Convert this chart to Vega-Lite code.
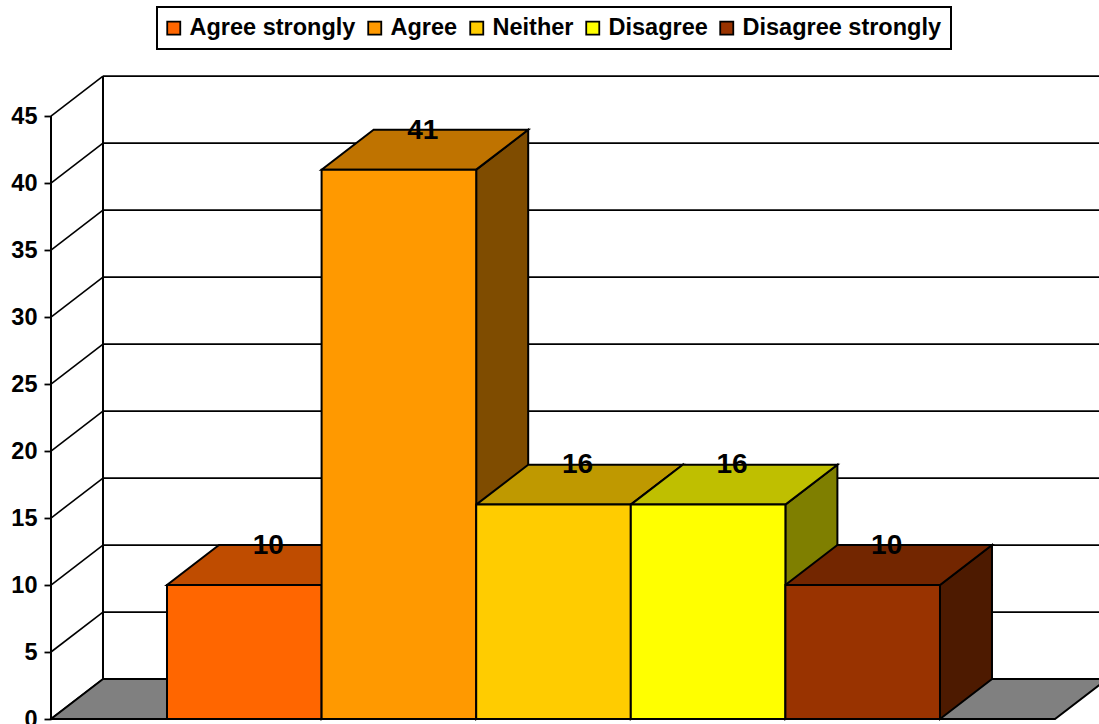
{
"$schema":"https://vega.github.io/schema/vega-lite/v6.json",
"width":1099,"height":724,"autosize":"none","padding":0,"background":"white",
"datasets":{
"bars":[{"category":"Agree strongly","value":10},{"category":"Agree","value":41},{"category":"Neither","value":16},{"category":"Disagree","value":16},{"category":"Disagree strongly","value":10}],
"ticks":[{"t":0},{"t":5},{"t":10},{"t":15},{"t":20},{"t":25},{"t":30},{"t":35},{"t":40},{"t":45}],
"floor":[{"d":0},{"d":1}],
"walls":[{"d":0,"lo":0,"hi":45},{"d":1,"lo":0,"hi":45}]
},
"config":{"view":{"stroke":null},"font":"Liberation Sans","legend":{"strokeWidth":2}},
"resolve":{"scale":{"fill":"independent"}},
"layer":[
{"data":{"name":"ticks"},
 "transform":[{"calculate":"-0.414","as":"xa"},{"calculate":"6.1","as":"xb"},{"calculate":"datum.t+2.98","as":"yb"}],
 "mark":{"type":"rule","stroke":"black","strokeWidth":1.6},
 "encoding":{"x":{"field":"xa","type":"quantitative","scale":{"domain":[-1.0802,6.0285],"range":[0,1099],"nice":false,"zero":false},"axis":null},"x2":{"field":"xb"},
 "y":{"field":"yb","type":"quantitative","scale":{"domain":[-0.373,53.66],"range":[724,0],"nice":false,"zero":false},
 "axis":{"orient":"left","offset":-51,"values":[0,5,10,15,20,25,30,35,40,45],"domain":false,"grid":false,"tickSize":7,"tickWidth":1.8,"tickColor":"black","labelFont":"Liberation Sans","labelFontSize":23.5,"labelFontWeight":"bold","labelColor":"black","labelPadding":7,"title":null,"labelFlush":false,"labelOverlap":false}}}},
{"data":{"name":"ticks"},
 "transform":[{"calculate":"[0,1]","as":"d"},{"flatten":["d"]},{"calculate":"-0.7503+datum.d*0.3363","as":"xe"},{"calculate":"datum.t+datum.d*2.98","as":"ye"}],
 "mark":{"type":"line","stroke":"black","strokeWidth":1.6},
 "encoding":{"x":{"field":"xe","type":"quantitative"},"y":{"field":"ye","type":"quantitative"},"detail":{"field":"t"}}},
{"data":{"name":"walls"},
 "transform":[{"calculate":"-0.7503+datum.d*0.3363","as":"xw"},{"calculate":"datum.lo+datum.d*2.98","as":"yl"},{"calculate":"datum.hi+datum.d*2.98","as":"yh"}],
 "mark":{"type":"rule","stroke":"black","strokeWidth":2},
 "encoding":{"x":{"field":"xw","type":"quantitative"},"y":{"field":"yl","type":"quantitative"},"y2":{"field":"yh"}}},
{"data":{"name":"floor"},
 "transform":[{"calculate":"datum.d*2.98","as":"yf"},{"calculate":"-0.7503+datum.d*0.3363","as":"xl"},{"calculate":"5.744+datum.d*0.3363","as":"xr"}],
 "mark":{"type":"area","orient":"horizontal","fill":"#808080","stroke":"black","strokeWidth":2},
 "encoding":{"y":{"field":"yf","type":"quantitative"},"x":{"field":"xl","type":"quantitative"},"x2":{"field":"xr"}}},
{"data":{"name":"bars"},
 "transform":[{"calculate":"indexof(['Agree strongly','Agree','Neither','Disagree','Disagree strongly'],datum.category)","as":"pos"},{"calculate":"[0,1]","as":"d"},{"flatten":["d"]},{"calculate":"datum.pos+1+datum.d*0.3363","as":"xs"},{"calculate":"datum.d*2.98","as":"yl"},{"calculate":"datum.value+datum.d*2.98","as":"yt"}],
 "mark":{"type":"area","stroke":"black","strokeWidth":2},
 "encoding":{"x":{"field":"xs","type":"quantitative"},"y":{"field":"yl","type":"quantitative"},"y2":{"field":"yt"},
 "fill":{"field":"category","type":"nominal","legend":null,"scale":{"domain":["Agree strongly","Agree","Neither","Disagree","Disagree strongly"],"range":["#7F3300","#7F4C00","#7F6600","#7F7F00","#4D1A00"]}}}},
{"data":{"name":"bars"},
 "transform":[{"calculate":"indexof(['Agree strongly','Agree','Neither','Disagree','Disagree strongly'],datum.category)","as":"pos"},{"calculate":"[0,1]","as":"d"},{"flatten":["d"]},{"calculate":"datum.pos+datum.d*0.3363","as":"xl"},{"calculate":"datum.pos+1+datum.d*0.3363","as":"xr"},{"calculate":"datum.value+datum.d*2.98","as":"yt"}],
 "mark":{"type":"area","orient":"horizontal","stroke":"black","strokeWidth":2},
 "encoding":{"y":{"field":"yt","type":"quantitative"},"x":{"field":"xl","type":"quantitative"},"x2":{"field":"xr"},
 "fill":{"field":"category","type":"nominal","legend":null,"scale":{"domain":["Agree strongly","Agree","Neither","Disagree","Disagree strongly"],"range":["#BF4C00","#BF7300","#BF9900","#BFBF00","#732600"]}}}},
{"data":{"name":"bars"},
 "transform":[{"calculate":"indexof(['Agree strongly','Agree','Neither','Disagree','Disagree strongly'],datum.category)","as":"pos"},{"calculate":"datum.pos+1","as":"xr"},{"calculate":"0","as":"zero"}],
 "mark":{"type":"rect","stroke":"black","strokeWidth":2},
 "encoding":{"x":{"field":"pos","type":"quantitative"},"x2":{"field":"xr"},"y":{"field":"value","type":"quantitative"},"y2":{"field":"zero"},
 "fill":{"field":"category","type":"nominal","scale":{"domain":["Agree strongly","Agree","Neither","Disagree","Disagree strongly"],"range":["#FF6600","#FF9900","#FFCC00","#FFFF00","#993300"]},
 "legend":{"orient":"none","legendX":157,"legendY":7,"direction":"horizontal","columns":5,"title":null,"symbolType":"square","symbolSize":170,"symbolStrokeColor":"black","symbolStrokeWidth":1.8,"symbolOffset":-4,"labelFont":"Liberation Sans","labelFontSize":23.5,"labelFontWeight":"bold","labelColor":"black","labelOffset":4,"columnPadding":8,"strokeColor":"black","fillColor":"white","padding":9,"labelLimit":400}}}},
{"data":{"name":"bars"},
 "transform":[{"calculate":"indexof(['Agree strongly','Agree','Neither','Disagree','Disagree strongly'],datum.category)+0.655","as":"xt"},{"calculate":"datum.value+2.92","as":"yt"}],
 "mark":{"type":"text","font":"Liberation Sans","fontSize":28,"fontWeight":"bold","color":"black","align":"center","baseline":"middle"},
 "encoding":{"x":{"field":"xt","type":"quantitative"},"y":{"field":"yt","type":"quantitative"},"text":{"field":"value","type":"quantitative"}}}
]}
